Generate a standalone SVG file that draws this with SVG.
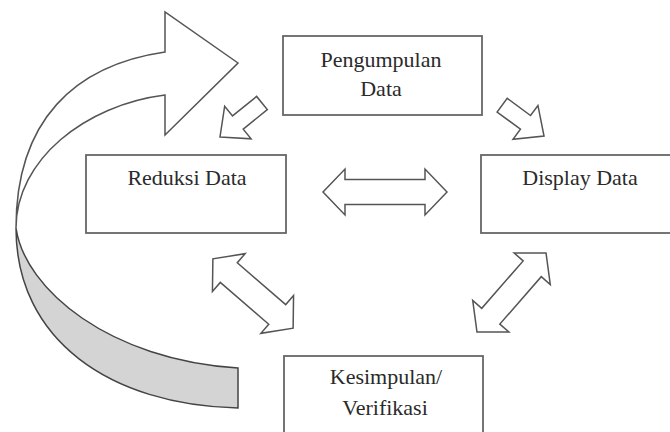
<svg xmlns="http://www.w3.org/2000/svg" width="670" height="432" viewBox="0 0 670 432">
<defs>
<style>
.box{fill:#fff;stroke:#666;stroke-width:1.8}
.lbl{font-family:"Liberation Serif","Times New Roman",serif;font-size:22px;fill:#2a2a2a;text-anchor:middle}
.arr{fill:#fff;stroke:#555;stroke-width:1.5;stroke-linejoin:miter}
.back{fill:#d4d4d4;stroke:#444;stroke-width:1.5}
</style>
</defs>
<rect width="670" height="432" fill="#fff"/>
<g id="connectors">
  <g id="cycle-arrow">
    <path class="back" d="M16,228 C16,340 110,405 238,408 L238,368 C110,360 25,290 16,228 Z"/>
    <path class="arr" d="M16,228 C16,120 75,65 165,52 L165,12 L238,63 L165,135 L165,95 C85,105 16,160 16,228 Z"/>
  </g>
  <polygon id="arrow-peng-reduksi" class="arr" transform="translate(220,137) rotate(141)" points="0,0 -23,-21 -23,-8.5 -54,-8.5 -54,8.5 -23,8.5 -23,21"/>
  <polygon id="arrow-peng-display" class="arr" transform="translate(544,136) rotate(36.4)" points="0,0 -23,-21 -23,-8.5 -52,-8.5 -52,8.5 -23,8.5 -23,21"/>
  <polygon id="arrow-reduksi-display" class="arr" transform="translate(385,192)" points="62,0 40,-23 40,-12.5 -40,-12.5 -40,-23 -62,0 -40,23 -40,12.5 40,12.5 40,23"/>
  <polygon id="arrow-reduksi-kesimpulan" class="arr" transform="translate(253,293.5) rotate(40.8)" points="53,0 32,-25 32,-13 -32,-13 -32,-25 -53,0 -32,25 -32,13 32,13 32,25"/>
  <polygon id="arrow-display-kesimpulan" class="arr" transform="translate(511.5,292.5) rotate(-48.9)" points="52.5,0 31.5,-24 31.5,-12 -31.5,-12 -31.5,-24 -52.5,0 -31.5,24 -31.5,12 31.5,12 31.5,24"/>
</g>
<g id="pengumpulan">
  <rect class="box" x="283" y="36" width="199" height="79"/>
  <text class="lbl" x="381" y="67">Pengumpulan</text>
  <text class="lbl" x="381" y="96">Data</text>
</g>
<g id="reduksi">
  <rect class="box" x="86" y="155" width="200" height="78"/>
  <text class="lbl" x="187" y="185">Reduksi Data</text>
</g>
<g id="display">
  <rect class="box" x="481" y="155" width="200" height="78"/>
  <text class="lbl" x="580" y="185">Display Data</text>
</g>
<g id="kesimpulan">
  <rect class="box" x="284" y="356" width="199" height="100"/>
  <text class="lbl" x="386" y="384">Kesimpulan/</text>
  <text class="lbl" x="385" y="415">Verifikasi</text>
</g>
</svg>
